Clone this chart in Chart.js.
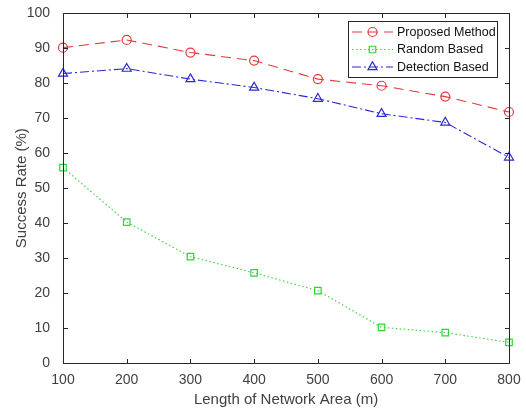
<!DOCTYPE html>
<html>
<head>
<meta charset="utf-8">
<script src="https://cdn.jsdelivr.net/npm/chart.js@4.4.1/dist/chart.umd.min.js"></script>
<style>
html,body{margin:0;padding:0;background:#fff;}
#wrap{width:526px;height:412px;}
</style>
</head>
<body>
<div id="wrap"><canvas id="c" width="526" height="412"></canvas></div>
<script>
// ---- data ----
const lengths = [100, 200, 300, 400, 500, 600, 700, 800];
const proposedMethod = [90.2, 92.4, 88.8, 86.5, 81.2, 79.3, 76.2, 71.8];
const randomBased = [55.9, 40.3, 30.4, 25.8, 20.7, 10.2, 8.7, 5.9];
const detectionBased = [82.8, 84.2, 81.2, 78.8, 75.6, 71.3, 68.8, 58.8];
const seriesNames = ['Proposed Method', 'Random Based', 'Detection Based'];
const xTitle = 'Length of Network Area (m)';
const yTitle = 'Success Rate (%)';

const FONT = '"Liberation Sans", Arial, Helvetica, sans-serif';
const AXIS = '#262626';
const TXT = '#404040';

function pts(ys){ return lengths.map((x,i)=>({x:x, y:ys[i]})); }

const styles = [
  {color:'#e23a3c', dash:[10,6], point:'circle', r:4.5},
  {color:'#35d435', dash:[1.5,2.5], point:'rect', r:4.6},
  {color:'#2a2ad0', dash:[9,3,2,3], point:'triangle', r:5.2}
];

function mkDs(name, ys, s){
  return {
    label:name, data:pts(ys),
    borderColor:s.color, borderWidth:1.1, borderDash:s.dash,
    pointStyle:s.point, pointRadius:s.r, pointHoverRadius:s.r,
    pointBorderColor:s.color, pointBackgroundColor:'rgba(0,0,0,0)',
    pointBorderWidth:1.2, tension:0, fill:false, clip:false
  };
}

function drawMarker(ctx, type, x, y, r){
  ctx.beginPath();
  if (type === 'circle') {
    ctx.arc(x, y, r, 0, Math.PI*2);
  } else if (type === 'rect') {
    const s = r*Math.SQRT1_2;
    ctx.rect(x-s, y-s, 2*s, 2*s);
  } else {
    let a = 0;
    ctx.moveTo(x + Math.sin(a)*r, y - Math.cos(a)*r);
    a += 2*Math.PI/3;
    ctx.lineTo(x + Math.sin(a)*r, y - Math.cos(a)*r);
    a += 2*Math.PI/3;
    ctx.lineTo(x + Math.sin(a)*r, y - Math.cos(a)*r);
    ctx.closePath();
  }
  ctx.stroke();
}

const boxPlugin = {
  id:'boxPlugin',
  afterDatasetsDraw(chart){
    const ctx = chart.ctx, a = chart.chartArea;
    const xs = chart.scales.x, ys = chart.scales.y;
    ctx.save();
    ctx.strokeStyle = AXIS; ctx.lineWidth = 1; ctx.setLineDash([]);
    const L = Math.round(a.left)+0.5, R = Math.round(a.right)+0.5, T = Math.round(a.top)+0.5, B = Math.round(a.bottom)+0.5;
    ctx.beginPath();
    ctx.rect(L, T, R-L, B-T);
    const tl = 4.5;
    xs.ticks.forEach(t=>{
      const px = Math.round(xs.getPixelForValue(t.value))+0.5;
      ctx.moveTo(px, B); ctx.lineTo(px, B-tl);
      ctx.moveTo(px, T); ctx.lineTo(px, T+tl);
    });
    ys.ticks.forEach(t=>{
      const py = Math.round(ys.getPixelForValue(t.value))+0.5;
      ctx.moveTo(L, py); ctx.lineTo(L+tl, py);
      ctx.moveTo(R, py); ctx.lineTo(R-tl, py);
    });
    ctx.stroke();
    ctx.restore();
  },
  afterDraw(chart){
    const ctx = chart.ctx;
    ctx.save();
    const bx = 348.5, by = 21.5, bw = 149, bh = 56;
    ctx.fillStyle = '#fff';
    ctx.fillRect(bx, by, bw, bh);
    ctx.strokeStyle = AXIS; ctx.lineWidth = 1;
    ctx.strokeRect(bx, by, bw, bh);
    const rows = [32, 49.5, 67];
    chart.data.datasets.forEach((ds, i)=>{
      const s = styles[i], y = rows[i];
      ctx.strokeStyle = s.color; ctx.lineWidth = 1.1;
      ctx.setLineDash(s.dash);
      ctx.beginPath(); ctx.moveTo(352, y); ctx.lineTo(393, y); ctx.stroke();
      ctx.setLineDash([]); ctx.lineWidth = 1.2;
      drawMarker(ctx, s.point, 372.5, y, s.r);
      ctx.fillStyle = '#111';
      ctx.font = '12.5px ' + FONT;
      ctx.textBaseline = 'middle'; ctx.textAlign = 'left';
      ctx.fillText(ds.label, 397, y+0.5);
    });
    ctx.restore();
  }
};

new Chart(document.getElementById('c'), {
  type:'line',
  data:{datasets:[
    mkDs(seriesNames[0], proposedMethod, styles[0]),
    mkDs(seriesNames[1], randomBased, styles[1]),
    mkDs(seriesNames[2], detectionBased, styles[2])
  ]},
  options:{
    responsive:false, animation:false, events:[],
    layout:{padding:{left:0, right:17, top:11, bottom:0}},
    plugins:{legend:{display:false}, tooltip:{enabled:false}},
    scales:{
      x:{
        type:'linear', min:100, max:800,
        ticks:{stepSize:100, color:TXT, padding:1, font:{family:FONT, size:14}, maxRotation:0},
        grid:{display:false}, border:{display:false},
        title:{display:true, text:xTitle, color:TXT, font:{family:FONT, size:15}, padding:{top:0,bottom:3}},
        afterFit(s){ s.height = 49; }
      },
      y:{
        type:'linear', min:0, max:100,
        ticks:{stepSize:10, color:TXT, padding:5, font:{family:FONT, size:14}},
        grid:{display:false}, border:{display:false},
        title:{display:true, text:yTitle, color:TXT, font:{family:FONT, size:15}, padding:{top:12.7,bottom:0}},
        afterFit(s){ s.width = 63; }
      }
    }
  },
  plugins:[boxPlugin]
});
</script>
</body>
</html>
